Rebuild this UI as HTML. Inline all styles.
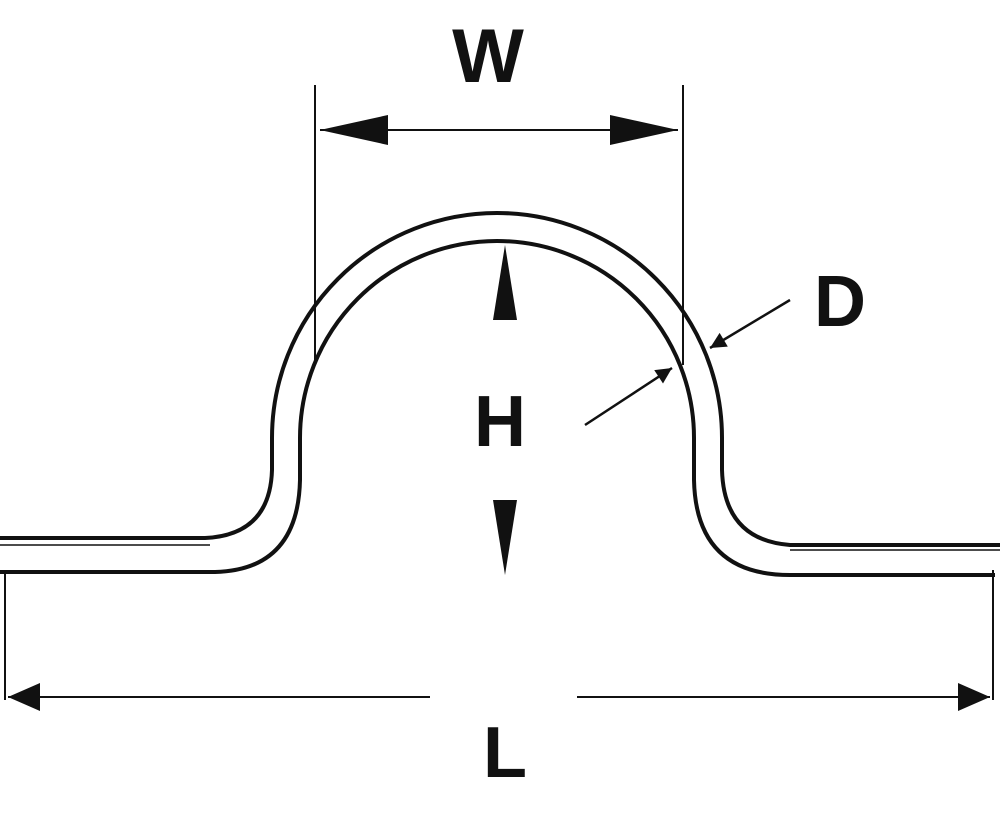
<!DOCTYPE html>
<html><head><meta charset="utf-8"><style>
html,body{margin:0;padding:0;background:#fff;}
svg{display:block}
text{font-family:"Liberation Sans",sans-serif;font-weight:bold;fill:#111;}
</style></head><body>
<svg width="1000" height="825" viewBox="0 0 1000 825" xmlns="http://www.w3.org/2000/svg">
<defs>
<marker id="a" viewBox="0 0 10 10" refX="10" refY="5" markerWidth="20" markerHeight="16" markerUnits="userSpaceOnUse" orient="auto">
<path d="M0,0 L10,5 L0,10 z" fill="#111"/></marker>
</defs>
<g fill="none" stroke="#111">
<path d="M0,538 L205,538 Q270,535 272,470 L272,438 A225,225 0 0 1 722,438 L722,470 Q724,540 790,545 L1000,545" stroke-width="4"/>
<path d="M0,545 L210,545" stroke-width="1.5"/>
<path d="M790,550 L1000,550" stroke-width="1.5"/>
<path d="M0,572 L215,572 Q298,570 300,480 L300,438 A197,197 0 0 1 694,438 L694,480 Q696,575 790,575 L995,575" stroke-width="4"/>
<line x1="315" y1="85" x2="315" y2="365" stroke-width="2"/>
<line x1="683" y1="85" x2="683" y2="365" stroke-width="2"/>
<line x1="320" y1="130" x2="678" y2="130" stroke-width="2"/>
<line x1="5" y1="570" x2="5" y2="700" stroke-width="2"/>
<line x1="993" y1="570" x2="993" y2="700" stroke-width="2"/>
<line x1="8" y1="697" x2="430" y2="697" stroke-width="2"/>
<line x1="577" y1="697" x2="990" y2="697" stroke-width="2"/>
<line x1="790" y1="300" x2="710" y2="348" stroke-width="2.5" marker-end="url(#a)"/>
<line x1="585" y1="425" x2="672" y2="368" stroke-width="2.5" marker-end="url(#a)"/>
</g>
<g fill="#111">
<polygon points="320,130 388,115 388,145"/>
<polygon points="678,130 610,115 610,145"/>
<polygon points="8,697 40,683 40,711"/>
<polygon points="990,697 958,683 958,711"/>
<polygon points="505,245 493,320 517,320"/>
<polygon points="505,575 493,500 517,500"/>
</g>
<text x="488" y="82" font-size="76" text-anchor="middle">W</text>
<text x="840" y="326" font-size="72" text-anchor="middle">D</text>
<text x="500" y="446" font-size="72" text-anchor="middle">H</text>
<text x="505" y="777" font-size="72" text-anchor="middle">L</text>
</svg>
</body></html>
